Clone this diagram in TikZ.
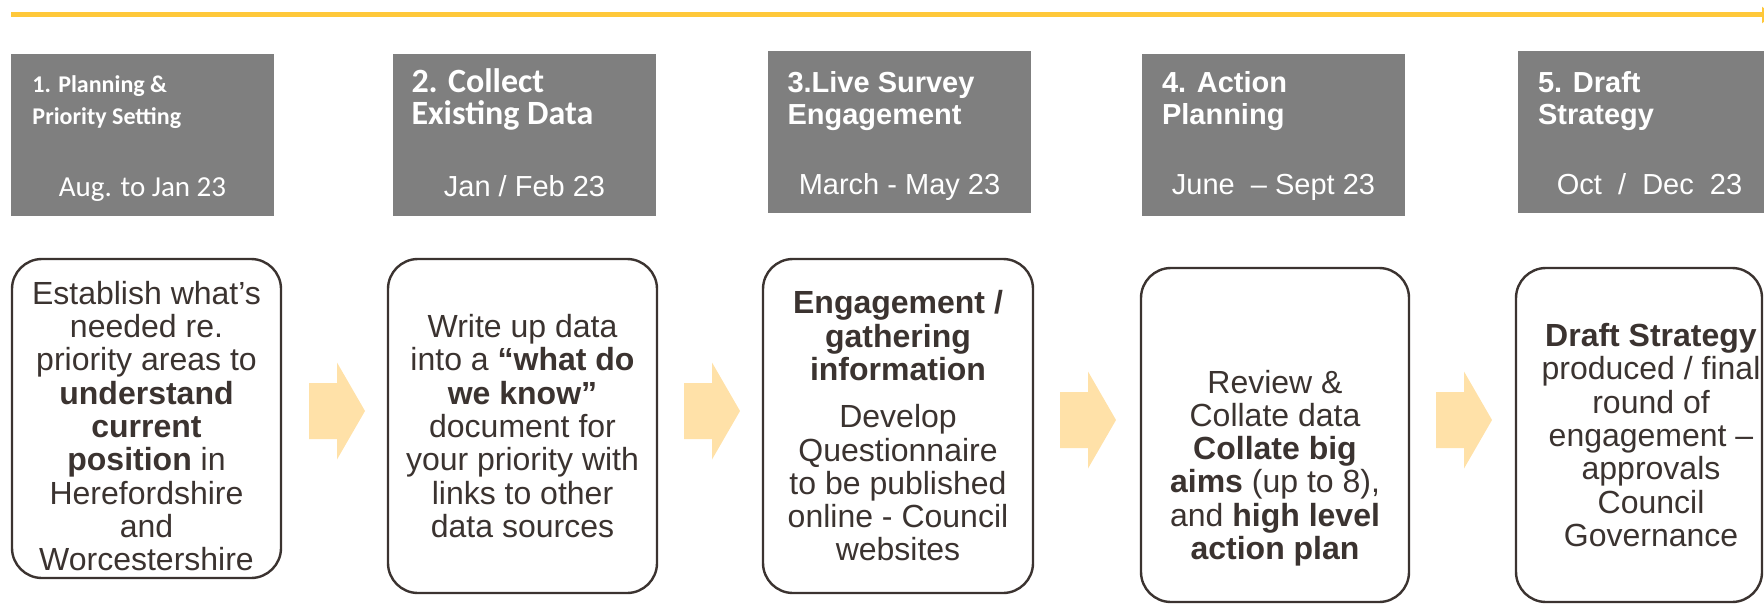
\documentclass[tikz,border=0pt]{standalone}
\usepackage{fontspec}
\setmainfont{Liberation Sans}
\newfontfamily\carlito{Carlito}
\usetikzlibrary{arrows.meta}
\definecolor{gold}{HTML}{FFC83A}
\definecolor{slate}{HTML}{7F7F7F}
\definecolor{ink}{HTML}{3B3330}
\definecolor{peach}{HTML}{FFE1A8}
\begin{document}
\begin{tikzpicture}
  [x=0.5pt,y=-0.5pt,
   phase/.style={rectangle,fill=slate,minimum width=131.5pt,minimum height=81pt,inner sep=0pt},
   title/.style={anchor=base west,align=left,text=white,inner sep=0pt,font=\bfseries\fontsize{14.5}{16}\selectfont},
   ctitle/.style={title,font=\carlito\bfseries\fontsize{12}{16}\selectfont},
   when/.style={anchor=base,text=white,inner sep=0pt,font=\fontsize{14.5}{16}\selectfont},
   body/.style={align=center,text=ink,inner sep=0pt,font=\fontsize{16}{16.65}\selectfont},
   task/.style={rectangle,draw=ink,line width=1.2pt,rounded corners=15pt,fill=white,minimum width=134.5pt,minimum height=167pt},
   chev/.pic={\fill[peach] (-28,-28) -- (0,-28) -- (0,-48.5) -- (28,0) -- (0,48.5) -- (0,28) -- (-28,28) -- cycle;}
  ]
  \useasboundingbox (0,0) rectangle (1764,604);

  % timeline
  \coordinate (t0) at (11,15);
  \coordinate (t1) at (1772,15);
  \draw[gold,line width=2.5pt,-{Triangle[length=5pt,width=8pt]}] (t0) -- (t1);

  % phases
  \node[phase] (p1) at (142.5,135) {};
  \node[phase] (p2) at (524.5,135) {};
  \node[phase] (p3) at (899.5,132) {};
  \node[phase] (p4) at (1273.5,135) {};
  \node[phase] (p5) at (1649.5,132) {};

  \node[ctitle] at ([xshift=10.75pt,yshift=-35.5pt]p1.north west) {1. Planning \&\\Priority Setting};
  \node[ctitle,font=\carlito\bfseries\fontsize{17}{16}\selectfont] at ([xshift=9.25pt,yshift=-35.5pt]p2.north west) {2. Collect\\Existing Data};
  \node[title] at ([xshift=9.75pt,yshift=-37pt]p3.north west) {3.Live Survey\\Engagement};
  \node[title] at ([xshift=10pt,yshift=-35.5pt]p4.north west) {4. Action\\Planning};
  \node[title] at ([xshift=10pt,yshift=-37pt]p5.north west) {5. Draft\\Strategy};

  \node[when,font=\carlito\fontsize{14.5}{16}\selectfont] at ([yshift=-71.5pt]p1.north) {Aug. to Jan 23};
  \node[when] at ([yshift=-71.5pt]p2.north) {Jan / Feb 23};
  \node[when] at ([yshift=-72pt]p3.north) {March - May 23};
  \node[when] at ([yshift=-70.5pt]p4.north) {June\ \ – Sept 23};
  \node[when] at ([yshift=-72pt]p5.north) {Oct\ \ /\ \ Dec\ \ 23};

  % tasks
  \node[task,minimum height=159.5pt] (r1) at (146.5,418.5) {};
  \node[task] (r2) at (522.5,426) {};
  \node[task,minimum width=135pt] (r3) at (898,426) {};
  \node[task,minimum width=134pt] (r4) at (1275,435) {};
  \node[task,minimum width=123pt] (r5) at (1639,435) {};

  \node[body] (b1) at ([yshift=-3.75pt]r1.center) {Establish what’s\\needed re.\\priority areas to\\\textbf{understand}\\\textbf{current}\\\textbf{position} in\\Herefordshire\\and\\Worcestershire};
  \node[body] (b2) at (r2.center) {Write up data\\into a \textbf{“what do}\\\textbf{we know”}\\document for\\your priority with\\links to other\\data sources};
  \node[body] (b3) at (r3.center) {\textbf{Engagement /}\\\textbf{gathering}\\\textbf{information}\\[7pt]Develop\\Questionnaire\\to be published\\online - Council\\websites};
  \node[body] (b4) at ([yshift=-16.5pt]r4.center) {Review \&\\Collate data\\\textbf{Collate big}\\\textbf{aims} (up to 8),\\and \textbf{high level}\\\textbf{action plan}};
  \node[body] (b5) at ([xshift=6pt]r5.center) {\textbf{Draft Strategy}\\produced / final\\round of\\engagement –\\approvals\\Council\\Governance};

  % chevrons between tasks
  \pic at (337,411) {chev};
  \pic at (712,411) {chev};
  \pic at (1088,420) {chev};
  \pic at (1464,420) {chev};
\end{tikzpicture}
\end{document}
